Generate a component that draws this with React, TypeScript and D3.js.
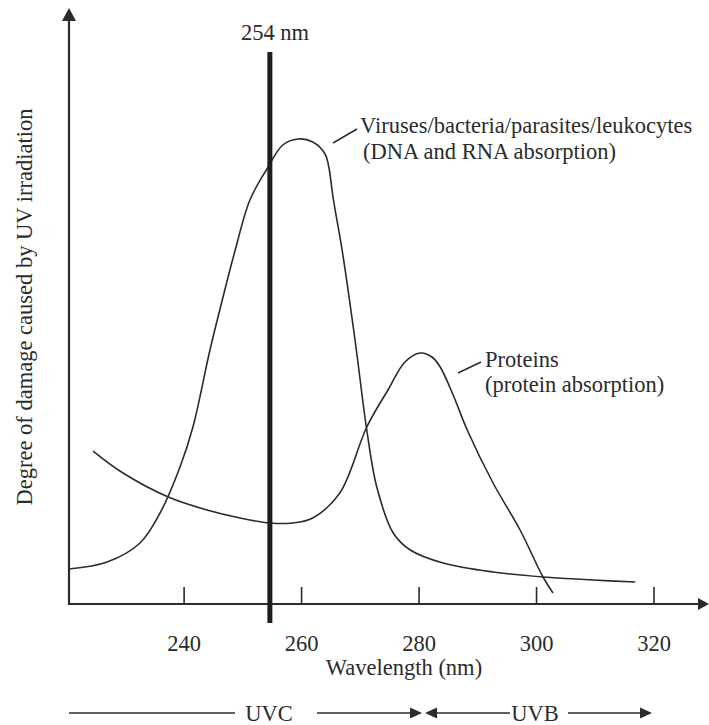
import React from "react";
import * as d3 from "d3";

// Wavelength (nm) vs. relative damage (arbitrary 0-100 units)
const virusWavelength = [220.4, 226.9, 232.5, 235.9, 239.3, 241.5, 244.4, 246.5, 248.7, 251.2, 254.1, 256.8, 259.4, 261.9, 264.0, 264.6, 265.4, 266.9, 269.1, 271.1, 272.8, 275.6, 278.5, 284.1, 292.6, 301.1, 309.6, 316.8];
const virusDamage = [7.0, 8.4, 12.2, 18.2, 27.4, 35.4, 50.8, 60.8, 70.8, 80.8, 87.0, 91.8, 93.0, 92.4, 90.0, 87.6, 81.0, 70.8, 52.8, 34.8, 23.4, 14.2, 10.8, 8.2, 6.4, 5.4, 4.8, 4.4];

const proteinWavelength = [224.5, 229.6, 237.3, 243.9, 249.5, 254.6, 258.5, 261.9, 266.5, 271.1, 274.7, 277.6, 280.2, 282.2, 283.6, 285.8, 288.2, 292.6, 297.2, 301.1, 302.8];
const proteinDamage = [30.6, 26.2, 21.4, 18.8, 17.2, 16.2, 16.2, 17.2, 22.2, 35.4, 42.8, 48.4, 50.2, 49.4, 47.4, 41.8, 34.8, 24.2, 14.8, 5.4, 2.2];

const xTicks = [240, 260, 280, 300, 320];
const markerWavelength = 254.6;
const markerLabel = "254 nm";
const uvcEnd = 280;
const uvbEnd = 320;

const virusLabel = ["Viruses/bacteria/parasites/leukocytes", "(DNA and RNA absorption)"];
const proteinLabel = ["Proteins", "(protein absorption)"];
const xTitle = "Wavelength (nm)";
const yTitle = "Degree of damage caused by UV irradiation";

const W = 709;
const H = 725;
const axisY = 604;
const axisX = 69;
const INK = "#2b2b2b";
const FONT = "'Liberation Serif', 'Times New Roman', serif";
const FS = 22.5;

export default function App() {
  const x = d3.scaleLinear().domain([220.4, 320]).range([69, 654]);
  const y = d3.scaleLinear().domain([0, 100]).range([axisY, 104]);

  const line = d3
    .line<[number, number]>()
    .x((d) => x(d[0]))
    .y((d) => y(d[1]))
    .curve(d3.curveCatmullRom.alpha(0.5));

  const virusPath = line(virusWavelength.map((w, i) => [w, virusDamage[i]]) as [number, number][]) || "";
  const proteinPath = line(proteinWavelength.map((w, i) => [w, proteinDamage[i]]) as [number, number][]) || "";

  const mx = x(markerWavelength);
  const arrowY = 713;
  const uvcTip = x(uvcEnd) + 3;
  const uvbTip = x(uvcEnd) + 6;
  const uvbRight = x(uvbEnd) - 2;

  return (
    <svg
      width={W}
      height={H}
      viewBox={`0 0 ${W} ${H}`}
      style={{ position: "absolute", left: 0, top: 0, background: "#fff" }}
      fontFamily={FONT}
    >
      <rect x={0} y={0} width={W} height={H} fill="#fff" />

      {/* curves */}
      <path d={virusPath} fill="none" stroke={INK} strokeWidth={1.6} />
      <path d={proteinPath} fill="none" stroke={INK} strokeWidth={1.6} />

      {/* axes */}
      <line x1={axisX} y1={axisY} x2={W - 8} y2={axisY} stroke={INK} strokeWidth={2.2} />
      <polygon points={`${W},${axisY} ${W - 11},${axisY - 6} ${W - 11},${axisY + 6}`} fill={INK} />
      <line x1={axisX} y1={axisY + 1} x2={axisX} y2={18} stroke={INK} strokeWidth={2.2} />
      <polygon points={`${axisX},8 ${axisX - 7},21 ${axisX + 7},21`} fill={INK} />

      {/* ticks */}
      {xTicks.map((t) => (
        <g key={t}>
          <line x1={x(t)} y1={axisY} x2={x(t)} y2={axisY - 17} stroke={INK} strokeWidth={1.6} />
          <text x={x(t)} y={651} textAnchor="middle" fontSize={FS} fill={INK}>
            {t}
          </text>
        </g>
      ))}

      {/* 254 nm marker */}
      <line x1={mx} y1={52} x2={mx} y2={623} stroke="#1e1e1e" strokeWidth={5} />
      <text x={275} y={40} textAnchor="middle" fontSize={FS} fill={INK}>
        {markerLabel}
      </text>

      {/* annotations */}
      <line x1={333} y1={143} x2={357} y2={129} stroke={INK} strokeWidth={1.5} />
      <text x={360} y={133} fontSize={FS} fill={INK}>
        {virusLabel[0]}
      </text>
      <text x={363} y={159} fontSize={FS} fill={INK}>
        {virusLabel[1]}
      </text>
      <line x1={458} y1={373} x2={481} y2={362} stroke={INK} strokeWidth={1.5} />
      <text x={485} y={367} fontSize={FS} fill={INK}>
        {proteinLabel[0]}
      </text>
      <text x={485} y={392} fontSize={FS} fill={INK}>
        {proteinLabel[1]}
      </text>

      {/* axis titles */}
      <text x={404} y={675} textAnchor="middle" fontSize={FS} fill={INK}>
        {xTitle}
      </text>
      <text
        transform={`translate(32, 307) rotate(-90)`}
        textAnchor="middle"
        fontSize={FS}
        fill={INK}
      >
        {yTitle}
      </text>

      {/* UVC / UVB band arrows */}
      <line x1={axisX} y1={arrowY} x2={235} y2={arrowY} stroke={INK} strokeWidth={1.6} />
      <text x={269} y={721} textAnchor="middle" fontSize={FS} fill={INK}>
        UVC
      </text>
      <line x1={317} y1={arrowY} x2={uvcTip - 10} y2={arrowY} stroke={INK} strokeWidth={1.6} />
      <polygon points={`${uvcTip},${arrowY} ${uvcTip - 12},${arrowY - 5.5} ${uvcTip - 12},${arrowY + 5.5}`} fill={INK} />
      <polygon points={`${uvbTip},${arrowY} ${uvbTip + 12},${arrowY - 5.5} ${uvbTip + 12},${arrowY + 5.5}`} fill={INK} />
      <line x1={uvbTip + 10} y1={arrowY} x2={510} y2={arrowY} stroke={INK} strokeWidth={1.6} />
      <text x={535} y={721} textAnchor="middle" fontSize={FS} fill={INK}>
        UVB
      </text>
      <line x1={568} y1={arrowY} x2={uvbRight - 10} y2={arrowY} stroke={INK} strokeWidth={1.6} />
      <polygon points={`${uvbRight},${arrowY} ${uvbRight - 12},${arrowY - 5.5} ${uvbRight - 12},${arrowY + 5.5}`} fill={INK} />
    </svg>
  );
}
